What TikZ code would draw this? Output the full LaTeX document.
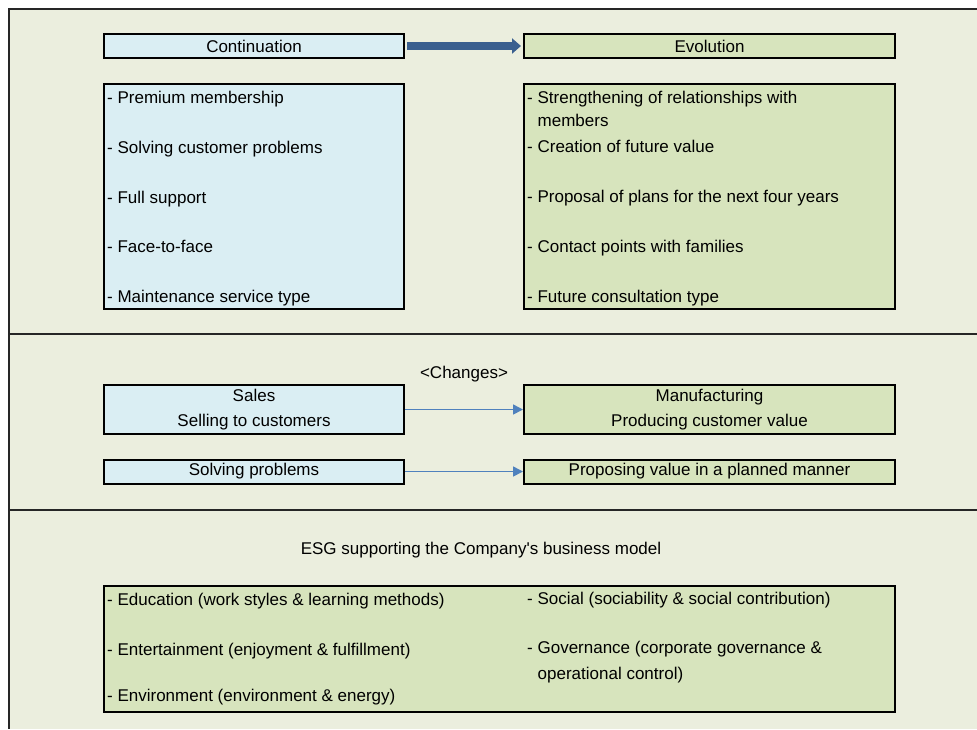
\documentclass[tikz,border=0pt]{standalone}
\usepackage{fontspec}
\setmainfont{Liberation Sans}
\usetikzlibrary{arrows.meta}
\definecolor{panel}{HTML}{EBEEDE}
\definecolor{keepblue}{HTML}{DAEEF3}
\definecolor{growgreen}{HTML}{D7E4BD}
\definecolor{bigarrow}{HTML}{3A5F8F}
\definecolor{smallarrow}{HTML}{4F81BD}

\begin{document}
\begin{tikzpicture}[x=1pt,y=1pt]
\tikzstyle{every node}+=[inner sep=0pt, font=\fontsize{17}{25}\selectfont]
\tikzstyle{oldbox}=[draw=black, line width=2pt, fill=keepblue]
\tikzstyle{newbox}=[draw=black, line width=2pt, fill=growgreen]
\tikzstyle{listtext}=[anchor=base west]
\tikzstyle{divider}=[black!85, line width=1.3pt]
\tikzstyle{thinarrow}=[smallarrow, line width=1.6pt, -{Triangle[width=10pt,length=10pt]}]
\useasboundingbox (0,0) rectangle (977,-729);
\fill [panel] (9,-9) rectangle (977,-729);
\draw [divider] (977,-9) -- (9,-9) -- (9,-729);
\draw [divider] (9,-334) -- (977,-334);
\draw [divider] (9,-510) -- (977,-510);
\node [oldbox, minimum width=300pt, minimum height=24pt] (cont) at (254,-46) {Continuation};
\node [newbox, minimum width=371pt, minimum height=24pt] (evol) at (709.5,-46) {Evolution};
\draw [bigarrow, line width=8pt, -{Triangle[width=15pt,length=9pt]}, shorten <=2pt, shorten >=2pt] (cont) -- (evol);
\node [oldbox, minimum width=300pt, minimum height=225pt] (oldlist) at (254,-196.5) {};
\node [newbox, minimum width=371pt, minimum height=225pt] (newlist) at (709.5,-196.5) {};
\node [listtext] (old1) at (107,-103) {- Premium membership};
\node [listtext] (old2) at (107,-153) {- Solving customer problems};
\node [listtext] (old3) at (107,-203) {- Full support};
\node [listtext] (old4) at (107,-252.5) {- Face-to-face};
\node [listtext] (old5) at (107,-302) {- Maintenance service type};
\node [listtext] (new1) at (527,-103.5) {- Strengthening of relationships with};
\node [listtext] (new1b) at (537.5,-126) {members};
\node [listtext] (new2) at (527,-152) {- Creation of future value};
\node [listtext] (new3) at (527,-202) {- Proposal of plans for the next four years};
\node [listtext] (new4) at (527,-252) {- Contact points with families};
\node [listtext] (new5) at (527,-302) {- Future consultation type};
\node [anchor=base] (changes) at (464,-378) {<Changes>};
\node [oldbox, align=center, minimum width=300pt, minimum height=49pt] (sales) at (254,-409.5) {Sales\\Selling to customers};
\node [newbox, align=center, minimum width=371pt, minimum height=49pt] (manuf) at (709.5,-409.5) {Manufacturing\\Producing customer value};
\draw [thinarrow] (sales) -- (manuf);
\node [oldbox, minimum width=300pt, minimum height=24pt] (solve) at (254,-471.5) {Solving problems};
\node [newbox, minimum width=371pt, minimum height=24pt] (plan) at (709.5,-471.5) {Proposing value in a planned manner};
\draw [thinarrow] (solve) -- (plan);
\node [anchor=base] (esgtitle) at (481,-554) {ESG supporting the Company\textquotesingle s business model};
\node [newbox, minimum width=791pt, minimum height=126pt] (esg) at (499.5,-649) {};
\node [listtext] (esg1) at (107,-605) {- Education (work styles \& learning methods)};
\node [listtext] (esg2) at (107,-655) {- Entertainment (enjoyment \& fulfillment)};
\node [listtext] (esg3) at (107,-701.5) {- Environment (environment \& energy)};
\node [listtext] (esg4) at (527,-604) {- Social (sociability \& social contribution)};
\node [listtext] (esg5) at (527,-653.5) {- Governance (corporate governance \&};
\node [listtext] (esg5b) at (537.5,-679) {operational control)};
\end{tikzpicture}
\end{document}
